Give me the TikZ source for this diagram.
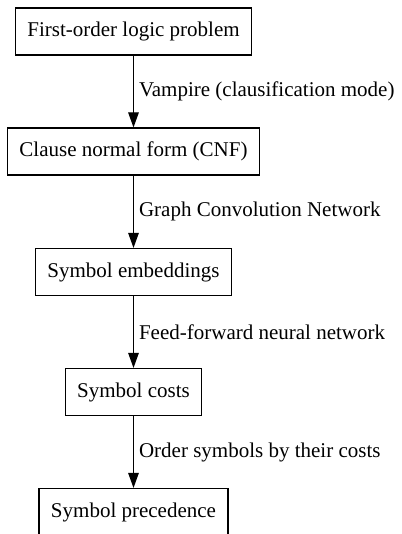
\documentclass[tikz,border=0pt]{standalone}
\usepackage{fontspec}
\setmainfont{Liberation Serif}
\usetikzlibrary{arrows.meta}
\begin{document}
\begin{tikzpicture}[x=1pt,y=-1pt,line width=1.1pt,
  stage/.style={draw,rectangle,inner xsep=12pt,minimum height=47pt,font=\fontsize{21}{25}\selectfont},
  flow/.style={-{Triangle[length=15pt,width=10.5pt]}},
  lbl/.style={midway,anchor=west,inner sep=0pt,xshift=5pt,font=\fontsize{21}{25}\selectfont}]
\useasboundingbox (0,0) rectangle (401,534);
\node[stage] (fol) at (133.5,31.5) {First-order logic problem};
\node[stage] (cnf) at (133.5,151.5) {Clause normal form (CNF)};
\node[stage] (emb) at (133.5,272) {Symbol embeddings};
\node[stage] (cost) at (133.5,392) {Symbol costs};
\node[stage] (prec) at (133.5,512) {Symbol precedence};
\draw[flow] (fol) -- node[lbl] {Vampire (clausification mode)} (cnf);
\draw[flow] (cnf) -- node[lbl] {Graph Convolution Network} (emb);
\draw[flow] (emb) -- node[lbl] {Feed-forward neural network} (cost);
\draw[flow] (cost) -- node[lbl] {Order symbols by their costs} (prec);
\end{tikzpicture}
\end{document}
